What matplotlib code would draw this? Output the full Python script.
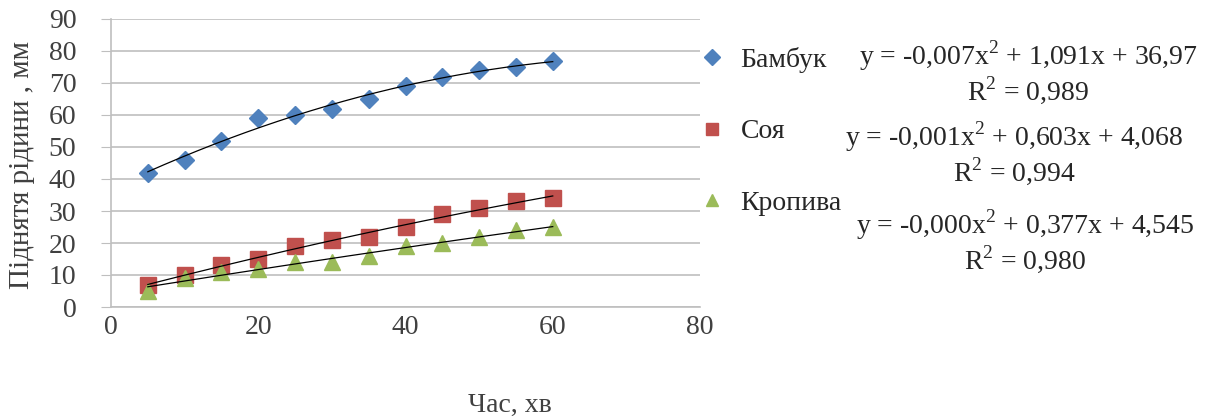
import matplotlib.pyplot as plt
import numpy as np

# час, хв
time_min = [5, 10, 15, 20, 25, 30, 35, 40, 45, 50, 55, 60]
# підняття рідини, мм
bamboo = [42, 46, 52, 59, 60, 62, 65, 69, 72, 74, 75, 77]
soy = [7, 10, 13, 15, 19, 21, 22, 25, 29, 31, 33, 34]
nettle = [5, 9, 11, 12, 14, 14, 16, 19, 20, 22, 24, 25]

names = ['Бамбук', 'Соя', 'Кропива']
equations = ['y = -0,007x$^2$ + 1,091x + 36,97\nR$^2$ = 0,989',
             'y = -0,001x$^2$ + 0,603x + 4,068\nR$^2$ = 0,994',
             'y = -0,000x$^2$ + 0,377x + 4,545\nR$^2$ = 0,980']

plt.rcParams['font.family'] = ['Liberation Serif', 'DejaVu Serif']
plt.rcParams['mathtext.fontset'] = 'custom'
plt.rcParams['mathtext.rm'] = 'Liberation Serif'

fig = plt.figure(figsize=(12.15, 4.19), dpi=100)
ax = fig.add_axes([111 / 1215, 1 - 307 / 419, 589 / 1215, 288 / 419])

colors = ['#4F81BD', '#C0504D', '#9BBB59']
markers = ['D', 's', '^']
sizes = [9, 11, 11]
series = [bamboo, soy, nettle]

x = np.array(time_min)
handles = []
for vals, c, m, s, name in zip(series, colors, markers, sizes, names):
    h, = ax.plot(x, vals, linestyle='none', marker=m, color=c, markersize=s,
                 label=name, zorder=3)
    handles.append(h)
    # поліноміальна лінія тренду
    coef = np.polyfit(x, vals, 2)
    xx = np.linspace(x.min(), x.max(), 200)
    ax.plot(xx, np.polyval(coef, xx), color='black', linewidth=0.9, zorder=4)

ax.set_xlim(0, 80)
ax.set_ylim(0, 90)
ax.set_xticks(np.arange(0, 81, 20))
ax.set_yticks(np.arange(0, 91, 10))
ax.yaxis.grid(True, color='#BFBFBF', linewidth=1.2)
ax.set_axisbelow(True)
for side in ['top', 'right']:
    ax.spines[side].set_visible(False)
ax.spines['left'].set_color('#BFBFBF')
ax.spines['bottom'].set_color('#BFBFBF')
ax.spines['left'].set_linewidth(1.2)
ax.spines['bottom'].set_linewidth(1.2)
ax.tick_params(axis='y', length=7, color='#BFBFBF', labelsize=20,
               labelcolor='#404040', pad=18)
ax.tick_params(axis='x', length=0, labelsize=20, labelcolor='#404040', pad=6)

ax.set_xlabel('Час, хв', fontsize=20, color='#404040')
ax.xaxis.set_label_coords((510 - 111) / 589, -(405 - 307) / 288)
ax.xaxis.label.set_va('center')
ax.set_ylabel('Піднятя рідини , мм', fontsize=21, color='#404040')
ax.yaxis.set_label_coords(-(111 - 22) / 589, (307 - 165) / 288)
ax.yaxis.label.set_va('center')

fig.legend(handles=handles, loc='upper left', bbox_to_anchor=(674 / 1215, 1 - 22 / 419),
           frameon=False, fontsize=20, handlelength=0.9, handletextpad=0.6,
           labelspacing=1.65, markerscale=0.85, labelcolor='#262626')

eq_pos = [(1028, 72), (1014, 153), (1025, 241)]
for (px, py), eq in zip(eq_pos, equations):
    fig.text(px / 1215, 1 - py / 419, eq, ha='center', va='center',
             fontsize=20, color='#262626', linespacing=1.05)

fig.savefig('out.png', dpi=100)
